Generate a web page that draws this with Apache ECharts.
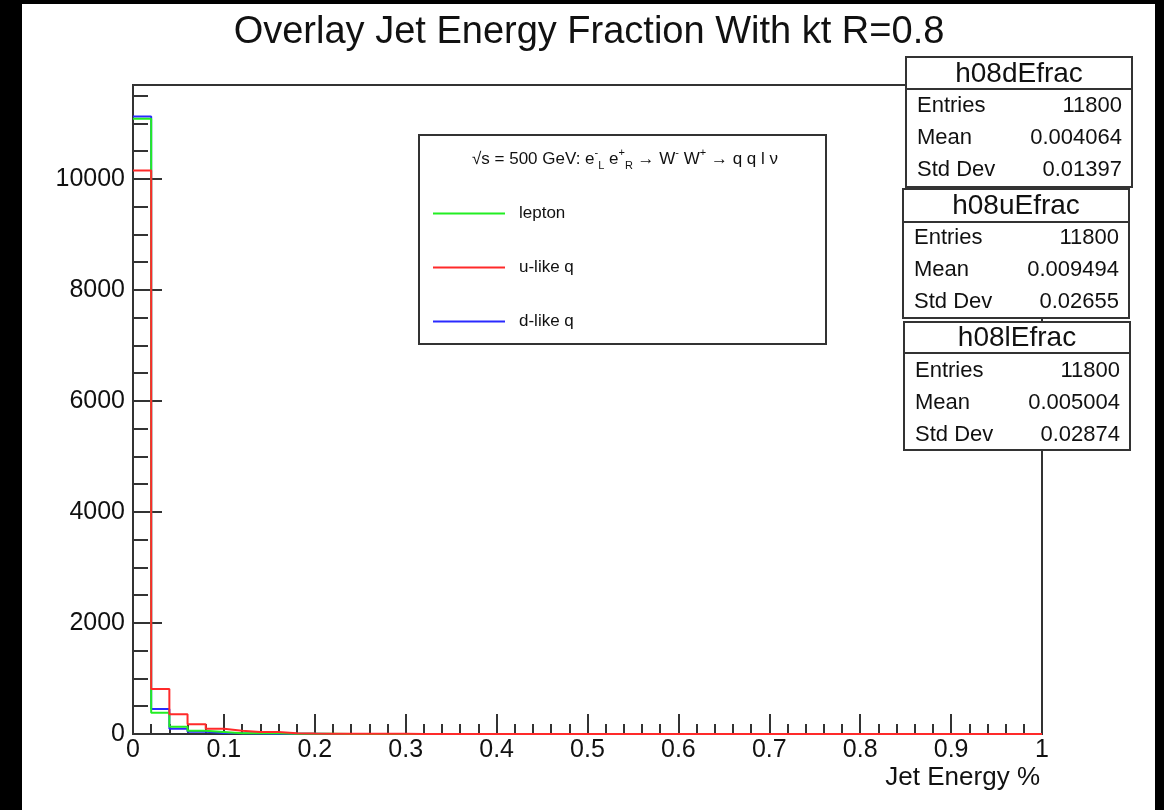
<!DOCTYPE html>
<html lang="en">
<head>
  <meta charset="UTF-8">
  <title>Overlay Jet Energy Fraction With kt R=0.8</title>
  <script src="https://cdn.jsdelivr.net/npm/echarts@6/dist/echarts.min.js"></script>
  <style>
    html, body { margin: 0; padding: 0; background: #000; }
    #frame { position: relative; width: 1164px; height: 810px; background: #000; overflow: hidden; }
    #paper { position: absolute; left: 22px; top: 4px; width: 1133px; height: 806px; background: #fff; }
    #main { position: absolute; left: 0; top: 0; width: 1164px; height: 810px; }
  </style>
</head>
<body>
<div id="frame">
  <div id="paper"></div>
  <div id="main"></div>
</div>
<script>
  // histogram binning: 50 bins of 0.02 between 0 and 1
  var binLo = 0, binHi = 1, nBins = 50;

  // bin contents
  var leptonCounts = [11081, 384, 132, 60, 36, 12, 12, 12, 6, 4,
                      3, 2, 2, 1, 1, 1, 0, 0, 0, 0,
                      0, 0, 0, 0, 0, 0, 0, 0, 0, 0,
                      0, 0, 0, 0, 0, 0, 0, 0, 0, 0,
                      0, 0, 0, 0, 0, 0, 0, 0, 0, 0];
  var uLikeCounts = [10150, 811, 355, 174, 96, 60, 36, 36, 12, 8,
                     6, 5, 4, 3, 3, 2, 2, 1, 1, 0,
                     0, 0, 0, 0, 0, 0, 0, 0, 0, 0,
                     0, 0, 0, 0, 0, 0, 0, 0, 0, 0,
                     0, 0, 0, 0, 0, 0, 0, 0, 0, 0];
  var dLikeCounts = [11122, 450, 96, 40, 20, 12, 8, 6, 4, 3,
                     2, 1, 1, 0, 0, 0, 0, 0, 0, 0,
                     0, 0, 0, 0, 0, 0, 0, 0, 0, 0,
                     0, 0, 0, 0, 0, 0, 0, 0, 0, 0,
                     0, 0, 0, 0, 0, 0, 0, 0, 0, 0];

  var seriesNames = ['lepton', 'u-like q', 'd-like q'];

  // stat boxes (top to bottom)
  var statNames = ['h08dEfrac', 'h08uEfrac', 'h08lEfrac'];
  var statEntries = ['11800', '11800', '11800'];
  var statMeans = ['0.004064', '0.009494', '0.005004'];
  var statStdDevs = ['0.01397', '0.02655', '0.02874'];

  var yMax = 11690;
  var FONT = '"Liberation Sans", Arial, sans-serif';
  var INK = '#111';
  var AXIS = '#333';

  // step points: left edge of each bin, plus the closing right edge
  function histPoints(counts) {
    var w = (binHi - binLo) / nBins;
    var pts = [];
    for (var i = 0; i < counts.length; i++) {
      pts.push([+(binLo + i * w).toFixed(4), counts[i]]);
    }
    pts.push([binHi, counts[counts.length - 1]]);
    return pts;
  }

  function statBox(k, x, y, w, h, sep) {
    var rows = [['Entries', statEntries[k]], ['Mean', statMeans[k]], ['Std Dev', statStdDevs[k]]];
    var els = [
      { type: 'rect', z: 100, shape: { x: x, y: y, width: w, height: h },
        style: { fill: '#fff', stroke: AXIS, lineWidth: 2 } },
      { type: 'line', z: 101, shape: { x1: x, y1: y + sep, x2: x + w, y2: y + sep },
        style: { stroke: AXIS, lineWidth: 2 } },
      { type: 'text', z: 101, x: x + w / 2, y: y + sep / 2 + 1,
        style: { text: statNames[k], font: '28px ' + FONT, fill: INK, align: 'center', verticalAlign: 'middle' } }
    ];
    rows.forEach(function (r, i) {
      var ry = y + 49 + i * 32;
      els.push({ type: 'text', z: 101, x: x + 11, y: ry,
        style: { text: r[0], font: '22px ' + FONT, fill: INK, align: 'left', verticalAlign: 'middle' } });
      els.push({ type: 'text', z: 101, x: x + w - 10, y: ry,
        style: { text: r[1], font: '22px ' + FONT, fill: INK, align: 'right', verticalAlign: 'middle' } });
    });
    return els;
  }

  var myChart = echarts.init(document.getElementById('main'));

  var graphics = [
    // legend frame and header
    { type: 'rect', z: 100, shape: { x: 419, y: 135, width: 407, height: 209 },
      style: { fill: 'none', stroke: AXIS, lineWidth: 2 } },
    { type: 'text', z: 101, x: 625, y: 159,
      style: {
        text: '{m|√s = 500 GeV: e}{sup|-}{sub|L}{m| e}{sup|+}{sub|R}{m| → W}{sup|-}{m| W}{sup|+}{m| → q q l ν}',
        align: 'center', verticalAlign: 'middle', fill: INK,
        rich: {
          m: { fontSize: 17, fontFamily: FONT, lineHeight: 24, verticalAlign: 'middle', fill: INK },
          sup: { fontSize: 11, fontFamily: FONT, lineHeight: 24, verticalAlign: 'top', fill: INK },
          sub: { fontSize: 11, fontFamily: FONT, lineHeight: 24, verticalAlign: 'bottom', fill: INK }
        }
      } }
  ];
  graphics = graphics.concat(statBox(0, 906, 57, 226, 130, 32));
  graphics = graphics.concat(statBox(1, 903, 189, 226, 129, 33));
  graphics = graphics.concat(statBox(2, 904, 322, 226, 128, 31));

  var options = {
    backgroundColor: 'transparent',
    animation: false,
    title: {
      text: 'Overlay Jet Energy Fraction With kt R=0.8',
      left: 589, top: 14, textAlign: 'center', padding: 0,
      textStyle: { fontFamily: FONT, fontSize: 38, fontWeight: 'normal', color: INK }
    },
    legend: {
      data: seriesNames,
      orient: 'vertical',
      left: 433, top: 205,
      padding: 0,
      itemWidth: 72, itemHeight: 2,
      itemGap: 37,
      icon: 'rect',
      selectedMode: false,
      textStyle: { fontFamily: FONT, fontSize: 17, lineHeight: 16, color: INK, padding: [0, 0, 0, 9] }
    },
    grid: {
      left: 133, right: 122, top: 85, bottom: 76,
      show: true, borderColor: AXIS, borderWidth: 2, backgroundColor: 'transparent'
    },
    xAxis: {
      type: 'value', min: 0, max: 1, interval: 0.1,
      name: 'Jet Energy %', nameLocation: 'end', nameGap: -2,
      nameTextStyle: { fontFamily: FONT, fontSize: 26, color: INK, align: 'right', verticalAlign: 'top', padding: [31, 0, 0, 0] },
      axisLine: { show: true, onZero: false, lineStyle: { color: AXIS, width: 2 } },
      axisTick: { show: true, inside: true, length: 20, lineStyle: { color: AXIS, width: 2 } },
      minorTick: { show: true, splitNumber: 5, length: 10, lineStyle: { color: AXIS, width: 2 } },
      axisLabel: { fontFamily: FONT, fontSize: 25, color: INK, margin: 4 },
      splitLine: { show: false }
    },
    yAxis: [
      {
        type: 'value', min: 0, max: yMax, interval: 2000, z: 3,
        axisLine: { show: true, onZero: false, lineStyle: { color: AXIS, width: 2 } },
        axisTick: { show: true, inside: true, length: 29, lineStyle: { color: AXIS, width: 2 } },
        axisLabel: {
          fontFamily: FONT, fontSize: 25, color: INK, margin: 8, showMaxLabel: false,
          formatter: function (v) { return String(v); }
        },
        splitLine: { show: false }
      },
      {
        type: 'value', min: 0, max: yMax, interval: 500, position: 'left', z: 3,
        axisLine: { show: false },
        axisTick: { show: true, inside: true, length: 15, lineStyle: { color: AXIS, width: 2 } },
        axisLabel: { show: false },
        splitLine: { show: false }
      }
    ],
    series: [
      { name: 'd-like q', type: 'line', step: 'end', symbol: 'none', yAxisIndex: 0,
        color: '#2a2aff', lineStyle: { color: '#2a2aff', width: 2 }, data: histPoints(dLikeCounts) },
      { name: 'lepton', type: 'line', step: 'end', symbol: 'none', yAxisIndex: 0,
        color: '#22ee22', lineStyle: { color: '#22ee22', width: 2 }, data: histPoints(leptonCounts) },
      { name: 'u-like q', type: 'line', step: 'end', symbol: 'none', yAxisIndex: 0,
        color: '#ff2a2a', lineStyle: { color: '#ff2a2a', width: 2 }, data: histPoints(uLikeCounts) }
    ],
    graphic: graphics
  };

  myChart.setOption(options);
  window.addEventListener('resize', function () {
    myChart.resize();
  });
</script>
</body>
</html>
